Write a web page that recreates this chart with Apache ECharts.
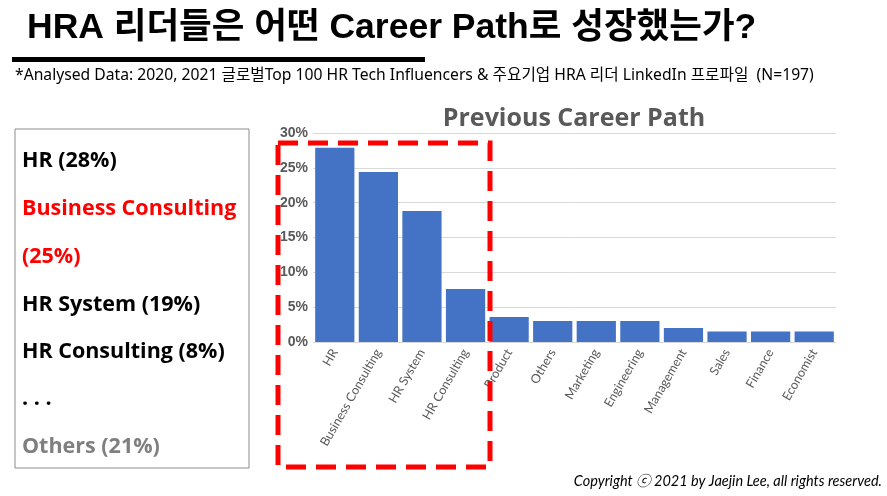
<!DOCTYPE html>
<html>
<head>
<meta charset="utf-8">
<script src="https://cdn.jsdelivr.net/npm/echarts@6/dist/echarts.min.js"></script>
<style>
  html, body { margin: 0; padding: 0; background: #fff; }
  #main { width: 887px; height: 496px; }
</style>
</head>
<body>
<div id="main"></div>
<script>
// career path categories and share (%)
var categories = ['HR', 'Business Consulting', 'HR System', 'HR Consulting', 'Product', 'Others',
    'Marketing', 'Engineering', 'Management', 'Sales', 'Finance', 'Economist'];
var shares = [27.9, 24.4, 18.8, 7.6, 3.6, 3.0, 3.0, 3.0, 2.0, 1.5, 1.5, 1.5];
var yTicks = [0, 5, 10, 15, 20, 25, 30];

// summary box lines
var boxLines = [
    { text: 'HR (28%)', color: '#000', y: 160 },
    { text: 'Business Consulting', color: '#ff0000', y: 208 },
    { text: '(25%)', color: '#ff0000', y: 256 },
    { text: 'HR System (19%)', color: '#000', y: 304 },
    { text: 'HR Consulting (8%)', color: '#000', y: 351 },
    { text: '. . .', color: '#000', y: 398 },
    { text: 'Others (21%)', color: '#7f7f7f', y: 446 }
];

var myChart = echarts.init(document.getElementById('main'));

var graphics = [
    {
        type: 'text', left: 27, top: 10,
        style: { text: 'HRA 리더들은 어떤 Career Path로 성장했는가?', fill: '#000',
            font: 'bold 35.5px "Liberation Sans", "Noto Sans CJK KR", sans-serif' }
    },
    {
        type: 'rect', shape: { x: 12, y: 57, width: 413, height: 5 },
        style: { fill: '#000' }
    },
    {
        type: 'text', left: 15, top: 68,
        style: { text: '*Analysed Data: 2020, 2021 글로벌Top 100 HR Tech Influencers & 주요기업 HRA 리더 LinkedIn 프로파일  (N=197)',
            fill: '#000', font: '15.7px "Noto Sans", "Noto Sans CJK KR", sans-serif' }
    },
    {
        type: 'rect', shape: { x: 15, y: 129, width: 234, height: 339 },
        style: { fill: 'none', stroke: '#8c8c8c', lineWidth: 1 }
    },
    {
        type: 'rect', z: 100, shape: { x: 278, y: 143, width: 212, height: 324 },
        style: { fill: 'none', stroke: '#ff0000', lineWidth: 5, lineDash: [20, 10] }
    },
    {
        type: 'text', right: 5, top: 474,
        style: { text: 'Copyright ⓒ 2021 by Jaejin Lee, all rights reserved.', fill: '#000',
            font: 'italic 14.5px "Lato", "Noto Sans CJK KR", sans-serif' }
    }
];

boxLines.forEach(function(l) {
    graphics.push({
        type: 'text', left: 22, top: l.y - 10,
        style: { text: l.text, fill: l.color, font: 'bold 21.5px "Open Sans", sans-serif' }
    });
});

var option = {
    backgroundColor: '#fff',
    animation: false,
    title: {
        text: 'Previous Career Path',
        left: 569, top: 101, textAlign: 'center',
        textStyle: { color: '#595959', fontSize: 25, fontWeight: 'bold', fontFamily: 'Open Sans' }
    },
    grid: { left: 313, right: 51, top: 133, bottom: 154 },
    xAxis: {
        type: 'category',
        data: categories,
        axisTick: { show: false },
        axisLine: { lineStyle: { color: '#d9d9d9' } },
        axisLabel: { rotate: 60, interval: 0, color: '#595959', fontSize: 12.5, fontFamily: 'Lato', margin: 8 }
    },
    yAxis: {
        type: 'value',
        min: yTicks[0], max: yTicks[yTicks.length - 1], interval: yTicks[1] - yTicks[0],
        axisLine: { show: false },
        axisTick: { show: false },
        splitLine: { lineStyle: { color: '#d9d9d9' } },
        axisLabel: { formatter: '{value}%', color: '#595959', fontSize: 14, fontWeight: 'bold', fontFamily: 'Liberation Sans', margin: 5 }
    },
    series: [{
        type: 'bar',
        data: shares,
        barCategoryGap: '10%',
        itemStyle: { color: '#4472c4' }
    }],
    graphic: graphics
};

myChart.setOption(option);
</script>
</body>
</html>
